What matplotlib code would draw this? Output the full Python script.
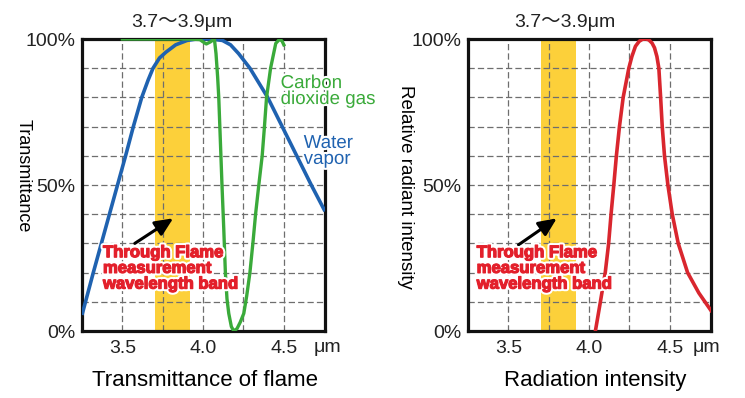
import matplotlib
matplotlib.use("Agg")
import matplotlib.pyplot as plt
import matplotlib.patheffects as pe

plt.rcParams['font.family'] = ['Liberation Sans', 'Noto Sans CJK JP', 'DejaVu Sans']

# measurement band (um)
band = (3.705, 3.918)

# water vapor transmittance (%)
water_x = [3.25, 3.32, 3.37, 3.42, 3.47, 3.52, 3.568, 3.62, 3.66, 3.69, 3.73, 3.77,
           3.83, 3.90, 3.96, 4.05, 4.12, 4.17, 4.22, 4.29, 4.345, 4.40, 4.49, 4.58,
           4.67, 4.755]
water_y = [5.5, 20, 30, 40, 50, 60, 70, 80, 86, 90, 93.5, 95.5, 98, 99.5, 100, 100,
           99.5, 98, 95, 90, 85, 80, 70, 60, 50, 41]

# carbon dioxide gas transmittance (%)
co2_x = [3.50, 3.90, 3.98, 4.00, 4.02, 4.045, 4.07, 4.08, 4.09, 4.097, 4.107, 4.117,
         4.128, 4.138, 4.148, 4.159, 4.175, 4.19, 4.21, 4.23, 4.252, 4.27, 4.29,
         4.31, 4.325, 4.345, 4.366, 4.38, 4.393, 4.418, 4.45, 4.475, 4.49, 4.50]
co2_y = [100, 100, 99.8, 99, 98.3, 99, 100, 95, 87, 80, 65, 50, 35, 20, 11, 6, 1.5,
         0, 0.8, 3, 6, 12, 20, 31, 40, 50, 60, 70, 80, 90, 98.5, 100, 99.2, 98]

# relative radiant intensity (%)
rad_x = [4.039, 4.07, 4.10, 4.121, 4.136, 4.153, 4.169, 4.188, 4.211, 4.246, 4.265,
         4.287, 4.31, 4.33, 4.35, 4.37, 4.39, 4.405, 4.42, 4.432, 4.443, 4.453,
         4.467, 4.488, 4.515, 4.552, 4.61, 4.68, 4.755]
rad_y = [0, 10, 20, 30, 40, 50, 60, 70, 80, 90, 94, 97.5, 99.2, 99.9, 100, 99.7,
         98.6, 97, 94, 90, 80, 70, 60, 50, 40, 30, 20, 13, 7]

xticks = [3.5, 4.0, 4.5]
xtick_labels = ['3.5', '4.0', '4.5']
yticks = [0, 50, 100]
ytick_labels = ['0%', '50%', '100%']

BLUE = '#1f62b0'
GREEN = '#3aaa3a'
RED = '#d9262e'
TEXT_RED = '#e3202b'
YELLOW = '#fcd03a'

fig = plt.figure(figsize=(7.45, 3.98), dpi=100)
ax1 = fig.add_axes([82 / 745, 67 / 398, 243 / 745, 292 / 398])
ax2 = fig.add_axes([468 / 745, 67 / 398, 243 / 745, 292 / 398])

white = [pe.withStroke(linewidth=3, foreground='white')]
# heavier look for the red note: white halo, then a thin red outline
heavy = [pe.withStroke(linewidth=3.8, foreground='white'),
         pe.withStroke(linewidth=0.9, foreground=TEXT_RED)]


def style(ax, um_x, title_x):
    ax.set_xlim(3.25, 4.755)
    ax.set_ylim(0, 100)
    ax.set_xticks(xticks)
    ax.set_xticklabels(xtick_labels)
    ax.set_xticks([3.75, 4.25], minor=True)
    ax.set_yticks(yticks)
    ax.set_yticklabels(ytick_labels)
    ax.set_yticks([10, 20, 30, 40, 60, 70, 80, 90], minor=True)
    ax.tick_params(which='both', length=0, labelsize=14, colors='#222222')
    ax.tick_params(axis='x', pad=6.5)
    ax.tick_params(axis='y', pad=5)
    ax.grid(which='both', color='#6e6e6e', lw=0.9, ls=(0, (5, 2.5)), zorder=1)
    ax.set_axisbelow(True)
    for s in ax.spines.values():
        s.set_linewidth(2.3)
        s.set_color('#111111')
    ax.axvspan(band[0], band[1], color=YELLOW, lw=0, zorder=0.5)
    ax.text(um_x, -0.055, 'μm', transform=ax.get_xaxis_transform(),
            ha='left', va='center', fontsize=14, color='#222222')
    ax.text(title_x, 1.055, '3.7〜3.9μm', transform=ax.get_xaxis_transform(),
            ha='center', va='center', fontsize=14, color='#222222')


style(ax1, 4.685, 3.871)
style(ax2, 4.641, 3.852)

ax1.plot(water_x, water_y, color=BLUE, lw=2.6, zorder=3, solid_capstyle='butt')
ax1.plot(co2_x, co2_y, color=GREEN, lw=2.4, zorder=3.1, solid_joinstyle='round')
ax2.plot(rad_x, rad_y, color=RED, lw=2.6, zorder=3, solid_joinstyle='round')

ax1.text(4.48, 82, 'Carbon\ndioxide gas', color=GREEN, fontsize=13.5,
         ha='left', va='center', linespacing=0.92, path_effects=white, zorder=6)
ax1.text(4.623, 61.5, 'Water\nvapor', color=BLUE, fontsize=13.5,
         ha='left', va='center', linespacing=0.92, path_effects=white, zorder=6)

ax1.set_ylabel('Transmittance', fontsize=13, rotation=-90, ha='center', va='center')
ax1.yaxis.set_label_coords(-0.243, 0.531)
ax2.set_ylabel('Relative radiant intensity', fontsize=13.5, rotation=-90,
               ha='center', va='center')
ax2.yaxis.set_label_coords(-0.259, 0.494)
ax1.set_xlabel('Transmittance of flame', fontsize=16, va='center')
ax1.xaxis.set_label_coords(0.506, -0.168)
ax2.set_xlabel('Radiation intensity', fontsize=16, va='center')
ax2.xaxis.set_label_coords(0.523, -0.168)

for ax, tx, tail, tip in [(ax1, 3.38, (3.577, 30), (3.815, 38.6)),
                          (ax2, 3.304, (3.5625, 29.5), (3.80, 38.6))]:
    ax.annotate('', xy=tip, xytext=tail,
                arrowprops=dict(arrowstyle='-|>,head_length=0.6,head_width=0.27',
                                color='black', lw=2.2, mutation_scale=18,
                                shrinkA=0, shrinkB=0), zorder=5)
    ax.text(tx, 29.4, 'Through Flame\nmeasurement\nwavelength band', color=TEXT_RED,
            fontsize=12, fontweight='bold', ha='left', va='top', linespacing=1.06,
            path_effects=heavy, zorder=6)

fig.savefig('out.png', dpi=100)
